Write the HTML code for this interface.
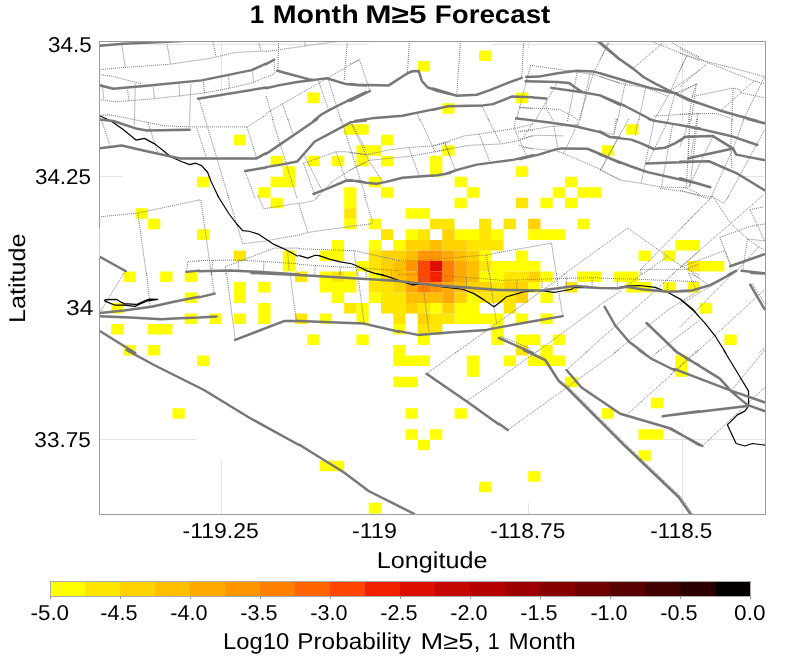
<!DOCTYPE html><html><head><meta charset="utf-8"><style>html,body{margin:0;padding:0;background:#fff;}svg{display:block;}text{font-family:"Liberation Sans",sans-serif;text-rendering:geometricPrecision;}</style></head><body>
<svg width="800" height="662" viewBox="0 0 800 662">
<rect width="800" height="662" fill="#fff"/>
<defs><clipPath id="pc"><rect x="100" y="42" width="665" height="472"/></clipPath></defs>
<path d="M99 44.5L369 44.5M493 44.5L765 44.5M99 176.5L123 176.5M738 176.5L765 176.5M99 439.5L197 439.5M663 439.5L765 439.5M221.5 42L221.5 101M221.5 461L221.5 514M528.5 42L528.5 48M528.5 503L528.5 514M682.5 42L682.5 122M682.5 430L682.5 514" stroke="#e4e4e4" stroke-width="1" fill="none"/>
<g clip-path="url(#pc)">
<path fill="#FFFF00" d="M479.09 50.55h12.27v10.52h-12.27zM417.76 61.07h12.27v10.52h-12.27zM307.37 92.62h12.27v10.52h-12.27zM515.89 92.62h12.27v10.52h-12.27zM442.29 103.14h12.27v10.52h-12.27zM344.17 124.18h12.27v10.52h-12.27zM356.44 124.18h12.27v10.52h-12.27zM626.28 124.18h12.27v10.52h-12.27zM233.78 134.7h12.27v10.52h-12.27zM380.97 134.7h12.27v10.52h-12.27zM356.44 145.22h12.27v10.52h-12.27zM368.7 145.22h12.27v10.52h-12.27zM442.29 145.22h12.27v10.52h-12.27zM601.75 145.22h12.27v10.52h-12.27zM270.58 155.74h12.27v10.52h-12.27zM307.37 155.74h12.27v10.52h-12.27zM331.9 155.74h12.27v10.52h-12.27zM356.44 155.74h12.27v10.52h-12.27zM380.97 155.74h12.27v10.52h-12.27zM430.03 155.74h12.27v10.52h-12.27zM282.84 166.26h12.27v10.52h-12.27zM430.03 166.26h12.27v10.52h-12.27zM515.89 166.26h12.27v10.52h-12.27zM196.98 176.78h12.27v10.52h-12.27zM270.58 176.78h12.27v10.52h-12.27zM282.84 176.78h12.27v10.52h-12.27zM368.7 176.78h12.27v10.52h-12.27zM454.56 176.78h12.27v10.52h-12.27zM564.95 176.78h12.27v10.52h-12.27zM258.31 187.3h12.27v10.52h-12.27zM344.17 187.3h12.27v10.52h-12.27zM380.97 187.3h12.27v10.52h-12.27zM466.82 187.3h12.27v10.52h-12.27zM552.68 187.3h12.27v10.52h-12.27zM577.21 187.3h12.27v10.52h-12.27zM589.48 187.3h12.27v10.52h-12.27zM270.58 197.81h12.27v10.52h-12.27zM344.17 197.81h12.27v10.52h-12.27zM454.56 197.81h12.27v10.52h-12.27zM540.42 197.81h12.27v10.52h-12.27zM564.95 197.81h12.27v10.52h-12.27zM135.66 208.33h12.27v10.52h-12.27zM405.5 208.33h12.27v10.52h-12.27zM417.76 208.33h12.27v10.52h-12.27zM147.92 218.85h12.27v10.52h-12.27zM344.17 218.85h12.27v10.52h-12.27zM368.7 218.85h12.27v10.52h-12.27zM577.21 218.85h12.27v10.52h-12.27zM196.98 229.37h12.27v10.52h-12.27zM405.5 229.37h12.27v10.52h-12.27zM454.56 229.37h12.27v10.52h-12.27zM466.82 229.37h12.27v10.52h-12.27zM491.36 229.37h12.27v10.52h-12.27zM528.15 229.37h12.27v10.52h-12.27zM540.42 229.37h12.27v10.52h-12.27zM552.68 229.37h12.27v10.52h-12.27zM331.9 239.89h12.27v10.52h-12.27zM368.7 239.89h12.27v10.52h-12.27zM393.23 239.89h12.27v10.52h-12.27zM675.34 239.89h12.27v10.52h-12.27zM687.6 239.89h12.27v10.52h-12.27zM282.84 250.41h12.27v10.52h-12.27zM319.64 250.41h12.27v10.52h-12.27zM331.9 250.41h12.27v10.52h-12.27zM479.09 250.41h12.27v10.52h-12.27zM515.89 250.41h12.27v10.52h-12.27zM638.54 250.41h12.27v10.52h-12.27zM663.07 250.41h12.27v10.52h-12.27zM282.84 260.93h12.27v10.52h-12.27zM356.44 260.93h12.27v10.52h-12.27zM491.36 260.93h12.27v10.52h-12.27zM503.62 260.93h12.27v10.52h-12.27zM515.89 260.93h12.27v10.52h-12.27zM528.15 260.93h12.27v10.52h-12.27zM699.87 260.93h12.27v10.52h-12.27zM712.13 260.93h12.27v10.52h-12.27zM123.39 271.45h12.27v10.52h-12.27zM160.19 271.45h12.27v10.52h-12.27zM184.72 271.45h12.27v10.52h-12.27zM319.64 271.45h12.27v10.52h-12.27zM344.17 271.45h12.27v10.52h-12.27zM368.7 271.45h12.27v10.52h-12.27zM479.09 271.45h12.27v10.52h-12.27zM491.36 271.45h12.27v10.52h-12.27zM540.42 271.45h12.27v10.52h-12.27zM577.21 271.45h12.27v10.52h-12.27zM589.48 271.45h12.27v10.52h-12.27zM614.01 271.45h12.27v10.52h-12.27zM626.28 271.45h12.27v10.52h-12.27zM233.78 281.97h12.27v10.52h-12.27zM258.31 281.97h12.27v10.52h-12.27zM319.64 281.97h12.27v10.52h-12.27zM331.9 281.97h12.27v10.52h-12.27zM344.17 281.97h12.27v10.52h-12.27zM528.15 281.97h12.27v10.52h-12.27zM626.28 281.97h12.27v10.52h-12.27zM638.54 281.97h12.27v10.52h-12.27zM663.07 281.97h12.27v10.52h-12.27zM687.6 281.97h12.27v10.52h-12.27zM184.72 292.49h12.27v10.52h-12.27zM233.78 292.49h12.27v10.52h-12.27zM331.9 292.49h12.27v10.52h-12.27zM368.7 292.49h12.27v10.52h-12.27zM466.82 292.49h12.27v10.52h-12.27zM540.42 292.49h12.27v10.52h-12.27zM111.13 303h12.27v10.52h-12.27zM258.31 303h12.27v10.52h-12.27zM356.44 303h12.27v10.52h-12.27zM430.03 303h12.27v10.52h-12.27zM454.56 303h12.27v10.52h-12.27zM466.82 303h12.27v10.52h-12.27zM699.87 303h12.27v10.52h-12.27zM184.72 313.52h12.27v10.52h-12.27zM209.25 313.52h12.27v10.52h-12.27zM233.78 313.52h12.27v10.52h-12.27zM258.31 313.52h12.27v10.52h-12.27zM319.64 313.52h12.27v10.52h-12.27zM356.44 313.52h12.27v10.52h-12.27zM454.56 313.52h12.27v10.52h-12.27zM466.82 313.52h12.27v10.52h-12.27zM479.09 313.52h12.27v10.52h-12.27zM491.36 313.52h12.27v10.52h-12.27zM515.89 313.52h12.27v10.52h-12.27zM540.42 313.52h12.27v10.52h-12.27zM111.13 324.04h12.27v10.52h-12.27zM147.92 324.04h12.27v10.52h-12.27zM160.19 324.04h12.27v10.52h-12.27zM393.23 324.04h12.27v10.52h-12.27zM491.36 324.04h12.27v10.52h-12.27zM307.37 334.56h12.27v10.52h-12.27zM356.44 334.56h12.27v10.52h-12.27zM417.76 334.56h12.27v10.52h-12.27zM491.36 334.56h12.27v10.52h-12.27zM515.89 334.56h12.27v10.52h-12.27zM528.15 334.56h12.27v10.52h-12.27zM552.68 334.56h12.27v10.52h-12.27zM724.4 334.56h12.27v10.52h-12.27zM123.39 345.08h12.27v10.52h-12.27zM147.92 345.08h12.27v10.52h-12.27zM393.23 345.08h12.27v10.52h-12.27zM540.42 345.08h12.27v10.52h-12.27zM196.98 355.6h12.27v10.52h-12.27zM393.23 355.6h12.27v10.52h-12.27zM405.5 355.6h12.27v10.52h-12.27zM417.76 355.6h12.27v10.52h-12.27zM466.82 355.6h12.27v10.52h-12.27zM503.62 355.6h12.27v10.52h-12.27zM528.15 355.6h12.27v10.52h-12.27zM540.42 355.6h12.27v10.52h-12.27zM552.68 355.6h12.27v10.52h-12.27zM675.34 355.6h12.27v10.52h-12.27zM466.82 366.12h12.27v10.52h-12.27zM675.34 366.12h12.27v10.52h-12.27zM393.23 376.64h12.27v10.52h-12.27zM405.5 376.64h12.27v10.52h-12.27zM564.95 376.64h12.27v10.52h-12.27zM650.81 397.68h12.27v10.52h-12.27zM172.45 408.2h12.27v10.52h-12.27zM405.5 408.2h12.27v10.52h-12.27zM454.56 408.2h12.27v10.52h-12.27zM601.75 408.2h12.27v10.52h-12.27zM405.5 429.23h12.27v10.52h-12.27zM430.03 429.23h12.27v10.52h-12.27zM638.54 429.23h12.27v10.52h-12.27zM650.81 429.23h12.27v10.52h-12.27zM417.76 439.75h12.27v10.52h-12.27zM638.54 450.27h12.27v10.52h-12.27zM319.64 460.79h12.27v10.52h-12.27zM331.9 460.79h12.27v10.52h-12.27zM528.15 471.31h12.27v10.52h-12.27zM479.09 481.83h12.27v10.52h-12.27zM368.7 502.87h12.27v10.52h-12.27z"/>
<path fill="#FFE600" d="M515.89 197.81h12.27v10.52h-12.27zM344.17 208.33h12.27v10.52h-12.27zM430.03 218.85h12.27v10.52h-12.27zM442.29 218.85h12.27v10.52h-12.27zM479.09 218.85h12.27v10.52h-12.27zM503.62 218.85h12.27v10.52h-12.27zM380.97 229.37h12.27v10.52h-12.27zM417.76 229.37h12.27v10.52h-12.27zM479.09 229.37h12.27v10.52h-12.27zM466.82 239.89h12.27v10.52h-12.27zM479.09 239.89h12.27v10.52h-12.27zM491.36 239.89h12.27v10.52h-12.27zM233.78 250.41h12.27v10.52h-12.27zM368.7 250.41h12.27v10.52h-12.27zM368.7 260.93h12.27v10.52h-12.27zM479.09 260.93h12.27v10.52h-12.27zM687.6 260.93h12.27v10.52h-12.27zM295.11 271.45h12.27v10.52h-12.27zM331.9 271.45h12.27v10.52h-12.27zM503.62 271.45h12.27v10.52h-12.27zM515.89 271.45h12.27v10.52h-12.27zM368.7 281.97h12.27v10.52h-12.27zM380.97 281.97h12.27v10.52h-12.27zM491.36 281.97h12.27v10.52h-12.27zM564.95 281.97h12.27v10.52h-12.27zM380.97 292.49h12.27v10.52h-12.27zM393.23 292.49h12.27v10.52h-12.27zM479.09 292.49h12.27v10.52h-12.27zM491.36 292.49h12.27v10.52h-12.27zM503.62 292.49h12.27v10.52h-12.27zM344.17 303h12.27v10.52h-12.27zM380.97 303h12.27v10.52h-12.27zM393.23 303h12.27v10.52h-12.27zM417.76 303h12.27v10.52h-12.27zM503.62 303h12.27v10.52h-12.27zM295.11 313.52h12.27v10.52h-12.27zM393.23 313.52h12.27v10.52h-12.27zM430.03 313.52h12.27v10.52h-12.27zM442.29 313.52h12.27v10.52h-12.27zM417.76 324.04h12.27v10.52h-12.27zM430.03 324.04h12.27v10.52h-12.27zM515.89 345.08h12.27v10.52h-12.27z"/>
<path fill="#FFD200" d="M528.15 218.85h12.27v10.52h-12.27zM442.29 229.37h12.27v10.52h-12.27zM405.5 239.89h12.27v10.52h-12.27zM417.76 239.89h12.27v10.52h-12.27zM442.29 239.89h12.27v10.52h-12.27zM454.56 239.89h12.27v10.52h-12.27zM380.97 250.41h12.27v10.52h-12.27zM393.23 250.41h12.27v10.52h-12.27zM466.82 250.41h12.27v10.52h-12.27zM380.97 260.93h12.27v10.52h-12.27zM380.97 271.45h12.27v10.52h-12.27zM528.15 271.45h12.27v10.52h-12.27zM393.23 281.97h12.27v10.52h-12.27zM466.82 281.97h12.27v10.52h-12.27zM479.09 281.97h12.27v10.52h-12.27zM503.62 281.97h12.27v10.52h-12.27zM515.89 281.97h12.27v10.52h-12.27zM454.56 292.49h12.27v10.52h-12.27zM515.89 292.49h12.27v10.52h-12.27zM405.5 303h12.27v10.52h-12.27zM442.29 303h12.27v10.52h-12.27zM417.76 313.52h12.27v10.52h-12.27z"/>
<path fill="#FFBE00" d="M430.03 239.89h12.27v10.52h-12.27zM405.5 250.41h12.27v10.52h-12.27zM454.56 250.41h12.27v10.52h-12.27zM393.23 260.93h12.27v10.52h-12.27zM466.82 260.93h12.27v10.52h-12.27zM393.23 271.45h12.27v10.52h-12.27zM466.82 271.45h12.27v10.52h-12.27zM454.56 281.97h12.27v10.52h-12.27zM405.5 292.49h12.27v10.52h-12.27zM417.76 292.49h12.27v10.52h-12.27zM430.03 292.49h12.27v10.52h-12.27z"/>
<path fill="#FFAA00" d="M442.29 250.41h12.27v10.52h-12.27zM454.56 260.93h12.27v10.52h-12.27zM405.5 271.45h12.27v10.52h-12.27zM454.56 271.45h12.27v10.52h-12.27zM405.5 281.97h12.27v10.52h-12.27zM442.29 281.97h12.27v10.52h-12.27zM442.29 292.49h12.27v10.52h-12.27z"/>
<path fill="#FF9600" d="M417.76 250.41h12.27v10.52h-12.27zM430.03 250.41h12.27v10.52h-12.27zM405.5 260.93h12.27v10.52h-12.27zM430.03 281.97h12.27v10.52h-12.27z"/>
<path fill="#FF8000" d="M442.29 260.93h12.27v10.52h-12.27zM442.29 271.45h12.27v10.52h-12.27zM417.76 281.97h12.27v10.52h-12.27z"/>
<path fill="#FF4600" d="M417.76 260.93h12.27v10.52h-12.27zM417.76 271.45h12.27v10.52h-12.27z"/>
<path fill="#F02000" d="M430.03 271.45h12.27v10.52h-12.27z"/>
<path fill="#DC0E00" d="M430.03 260.93h12.27v10.52h-12.27z"/>
<path d="M99 69.64L127.64 67.25L170.6 64.15L211.17 58.18L235.04 52.46L266.06 51.02M121.67 44.58L125.25 66.78M167.02 43.86L170.6 64.15M213.08 42.19L215.95 56.51M258.43 41L260.81 51.02M99 74.41L113.32 76.32L127.64 80.38L141.96 83.96M99 99.47L115.71 101.86L153.89 98.76L204.01 93.03L229.07 88.26L252.94 82.77L266.06 76.8M102.58 87.54L103.77 99.47M127.64 89.93L128.83 100.67M153.42 87.54L154.37 98.28M178.95 83.48L179.67 96.37M203.53 82.05L204.49 93.03M228.59 76.8L229.55 88.26M252.46 71.55L253.65 82.77M99 114.99L110.93 114.99L134.8 119.76L163.44 125.73L189.69 126.92L246.97 126.92L266.06 114.99M101.39 119.76L109.74 144.82M147.93 122.15L157.47 151.98M196.85 128.11L206.4 157.95M246.97 126.92L256.52 157.95M245.06 171.07L255.32 199M278.5 41L278.5 49.75L277.88 70.38M266 51.62L278.5 49.75L304.75 46L331 42.25L347.25 41M304.12 41L305.38 46M347.25 41L344.12 81M274.12 59.75L274.75 73.5L266 77.88M266 113.5L359.12 59.75M266 96L273.5 121M282.25 103.5L288.5 121M318.5 81L328.5 109.75M328.5 79.75L341 121M350 64.12L359.38 59.75L370 91M409.38 41L407.5 72.25M417.5 114.12L420 121M272.25 119L297.25 199M287.88 119L292.88 134M341 119L366 197.75M303.5 163.38L314.12 192.75M303.5 163.38L336 151.75L346 151.75L366 154.62M336 151.75L346 180.25M316 199L332.25 181.5L356 166.5L366 162.12M304.12 155.25L321.62 189.62M352.25 124L366 150.25M351.25 124L368.75 160.25L382.5 181.5M350 152.75L367.5 154.62L387.5 150.25L408.75 147.5L432.5 145.88L450 142.12M350 170.25L356.25 167.12L369.38 160.25L408.75 156.5L435 151.75L450 149M408.75 147.5L418.75 174.62M420 119L435 151.75M445 142.75L450 156.5M460.5 41L456.75 94.75M523.62 41L521.75 77.88M530.5 65.38L516.75 118.5M481.75 105.38L489.25 121M519.25 107.25L533 108.5M433 145.88L445.5 142.12L464.25 135.88L479.88 134L495.5 131.5L515.5 128.38L533 124M433 152.12L448 149L470.5 145.25L500.5 144L520.5 140.25L533 135.25M444.25 142.12L455.5 170.25M479.25 134L489.88 162.12M488 119L500.5 143.38M515.5 119L514.25 128.38L526.75 156.5M519.25 145.25L533 149M518 131.5L533 130.25M533 122.75L523 137.75M530 65.38L557.5 69.12L595 74.75L620 83.5M610 41L593.75 72.25L578.75 121M577.5 71L567.5 121M590 73.5L580 121M557.5 82.25L535 121M520 107.88L546.25 108.5L560 109.75L572.5 116L578.75 121M546.25 98.5L546.25 108.5L553.75 121M608.75 41L600 59.75M650 41L666.25 47.25L700 61M670 41L677.5 46L700 57.25M665 41L633.75 67.88M600 76.62L623.75 84.12L646.25 87.88L667.5 96M686.25 56.62L668.75 94.75L653.75 121M700 69.75L670 91M696.25 84.12L675 93.5M696.25 84.12L691.25 121M625.62 81L617.5 121M645.62 87.88L638.75 121M675 93.5L667.5 121M653.75 116L700 113.5M680 48.85L707.78 62.74L753.67 80.86L764.54 83.87M680 53.08L701.74 60.32L730.72 67.57L764.54 76.63M686.64 56.1L680 69.99M707.78 62.74L680 86.89M696.3 83.87L680 92.93M696.3 83.87L692.08 96.56L688.45 120.95M692.08 96.56L733.14 88.1L739.18 89.31L741.59 92.93L764.54 97.76M754.28 80.86L721.06 110.44M733.14 88.1L731.93 120.95M764.54 76.63L742.8 120.95M680 114.07L716.23 113.46L730.72 118.29M698.12 113.46L696.91 120.95M520 131.5L551.25 126.5L580 124.62M520 139L536.25 135.25L563.75 135.88M523.75 147.75L556.25 150.88L563.75 153.38L601.25 169.62L620 180.25M563.75 153.38L578.75 121.5M557.5 146.5L553.75 125.25M617.5 139L601.25 169.62M617.5 119L613.75 135.25M600 130.88L612.5 134.62M616.25 119L613.75 134.62M628.75 119L600 170.25M638.75 119L635 135.25M653.75 122.75L641.25 182.75M668.75 119L647.5 163.38M672.5 125.25L661.25 187.12M690 119L686.25 189M697.5 119L690 187.12M600 170.25L621.25 180.25L641.25 183.38L661.25 187.12L685 187.5L700 194M660 188.38L683.75 191.5L700 195.25M689.66 119L688.45 157.65M696.91 119L690.87 156.44M731.93 119L730.72 147.99L731.93 168.52M744.01 119L733.14 148.59M764.54 129.87L727.1 198.95M712.61 137.12L688.45 187.84M733.14 148.59L710.19 198.95M680 190.26L710.19 198.95M689.66 119L680 146.78M99 216.88L137.75 213.12L199 200M137.75 213.12L146.5 275M199 261.25L187.75 261.25L186.5 271.88M199 200L200.88 200L211.5 275M227.75 195L242.75 243.75L264 241.25L299 235M257.75 195L264 208.75L299 203.12M199 260.62L240.25 260L299 263.75M225.25 266.88L246.5 258.75L274 248.12L299 248.12M212.75 260L211.5 275M225.25 266.88L225.88 275M238.38 260.62L238.38 271.25M264 262.5L263.38 271.25M287.75 251.25L289 271.25M319 195L314 200.62L299 203.75M299 204.38L307.75 232.5M299 235L307.75 232.5L342.75 227.5L371.5 223.75L372.75 221.88M364 195L372.75 221.88M299 248.75L354 250.62L399 260.62M354 250.62L357.12 275M299 264.38L336.5 266.88L355.25 267.5L399 270.62M315.25 265.62L314.62 275M340.25 266.88L340.25 275M399 260L419 260.62L455.25 257.5L486.5 255L499 252.5M419 260.62L417.75 275M486.5 255L489 275M499 252.5L551.5 243.12L556.5 275M599 248.75L562.75 275M599 248.75L627.75 228.12L681.5 266.25L699 275M699 210L640.25 270L641.5 275M640.25 269.38L686.5 269.38L699 263.75M667.75 256.25L641.5 275M699 251.25L671.5 275M680 229.42L712.61 196.21M698.12 195L712.61 196.81L723.48 203.45L729.52 195M712.61 196.21L730.72 223.38L747.63 239.08L764.54 250.56M763.33 195L730.72 223.38L680 267.46M719.86 237.27L750.05 226.4L764.54 223.99M719.86 237.27L730.72 266.26M747.63 239.08L764.54 240.89M750.05 209.49L763.33 207.08M750.05 209.49L764.54 240.89M680 267.46L724.69 250.56L731.93 267.46M747.63 239.08L742.8 269.88M758.5 246.93L736.76 271.09M124 273L100.25 311.75M146.5 273L150.25 306.75M211.5 273L214 293.62M226.5 273L235.25 339.88M290.25 275.5L296.5 321.12M357.75 273L364 323M365.88 271.75L366.5 279.25M340.25 271.75L339.62 278M391.5 271.75L392.12 279.25M399 274.25L441.5 275.5L466.5 277.38L499 279.88M421.5 273L429 331.75M441.5 275.5L441.5 284.88M466.5 277.38L466.5 286.75M489.62 273L491.5 289.25L494 306.75L496.5 323M455.25 353L499 321.75M499 280.5L599 277.38M517.12 280.5L516.5 290.5M542.12 281.12L542.12 289.88M566.5 277.38L566.5 286.75M592.12 278L592.12 286.75M556.5 273L558.38 290.5L562.75 316.12M566.5 273L499 321.75M599 306.12L535.25 353M599 340.5L585.25 353M501.5 336.5L530.25 348.5M599 278L636.5 279.25L699 281.75M617.75 279.25L617.12 288M642.75 273L626.5 286.75M599 305.5L621.5 290.5M599 340.5L652.75 293L674 273M614 353L669 309.25L699 290.5M656.5 353L699 320.5M689 273L699 278M667.75 283L667.12 291.75M688.45 273L695.7 288.7M692.08 273L707.78 284.47M680 304.4L733.14 273M680 327.35L731.93 274.21M695.7 352.95L764.54 289.91M752.46 283.87L764.54 303.19M758.5 352.95L764.54 347.88M426.5 373.75L459 350M466.5 401.25L499 378.75M499 378.75L539 350M507.75 430L619 350M566.5 370L589 350M627.75 413.75L699 350M651.5 358.75L659 350M561 381.25L568.5 387L626 444.5L681 497L693.5 515.5M670 374.94L697.43 350M702.42 446.01L764.76 387.41M729.85 392.39L764.76 350M135.28 83.48L134.32 125.73M190.89 84.44L189.21 126.92M199.24 99.47L229.07 199" stroke="#7a7a7a" stroke-width="1" stroke-dasharray="1 1" fill="none"/>
<path d="M99 115.46L110.93 120.95L122.87 129.31L135.99 140.05L144.35 138.37L155.09 144.1L163.44 150.79L170.6 156.75L181.34 161.53L189.69 164.63L195.66 163.2L201.63 165.58L207.59 172.26L211.17 181.81L219.53 199M217.12 195L229 213.75L236.5 223.75L242.75 230.62L249 231.25L259 234.38L274 244.38L286.5 250L297.75 256.25M298.38 255.38L307.75 258.12L315.25 255.25L319 255.62L330.25 259.38L340.25 261.88L351.5 263.75L357.75 266.25L366.5 270.62L374 273.12L384 275M104 300.4L106.4 299.6L116.8 299.4L121.6 302.4L124 303.6L135.2 304.4L137.6 304L146.4 300L149.6 299.2L157.6 299.4L148 300.8L138.4 304.8L135.2 306.4L124 305.2L115.2 305.2L108 302.4L104 300.4M372.75 273L386.5 276.12L399 280.5M399 280.75L412.75 284.88L422.75 283.62L442.75 287L462.75 289.25L474 293.62L484 299.88L494 306.75L499 303M499 303L506.5 296.75L524 291.75L539 290.5L554 292.38L557.75 291.75L571.5 289.25L574 287.38L579 286.5M574 287.38L599 288L617.75 287.75L626.5 286.12L639 285.5L655.25 287.38L669 293L681.5 299.88L692.75 309.25L699 316.75M680 298.97L694.49 311.65L705.36 323.72L715.02 335.8L725.89 352.95M723.62 350L737.33 372.44L748.55 391.15L748.55 406.11L744.81 411.1L737.33 414.84L727.36 424.81L736.08 443.52L744.81 446.01L752.29 443.52L766.01 445.26" stroke="#000" stroke-width="1.2" fill="none" stroke-linejoin="round"/>
<path d="M99 45.77L122.87 43.86L182.53 41M99 85.15L113.32 88.73L146.73 85.87L201.63 80.38L251.74 70.12L266.06 63.67M198.05 98.76L266.06 87.54M99 119.28L113.32 120.95L137.19 128.83L146.73 130.5L189.69 129.78M99 148.4L121.67 145.53L146.73 151.26L180.15 158.42L256.52 158.42L266.06 153.17M245.06 171.07L266.06 167.49M266 64.12L274.12 59.75M277.25 70.75L291 74.5L308.5 79.12L313.5 80L319.75 79.12L327.25 78.25L331 79.5L346 84.12L356 85L366 85.38M266 88.25L278.5 85.38L297.25 82L313.5 80M313.5 121L321 114.75L331 109.12L347.25 101L366 92.25M350 84.12L357.5 84.75L388.75 85.38L407.5 73.25L412.5 71.25L418.75 71L421.88 81L427.5 87.25L437.5 91L450 94.12M350 101L370 91M355 121L375 117.88L402.5 115.75L416.25 112.88L450 106M266 154L279.75 144.62L297.25 132.75L317.25 119M266 167.12L281 164.62L297.25 161.5L314.75 141.5L334.75 130.88L351 122.12L366 120.5M313.5 194L331 187.12L346.62 180.5L358.5 180.88L366 182.75M350 180.25L366.25 182.75L376.25 183.75L385 182.12L402.5 177.75L418.75 176.5L437.5 175.25L450 173M433 88.5L456.75 95.75L476.75 94.75L489.25 90.38L508 82.88L521.75 77.88M433 109.75L448 106.25L483 105.38L493 104.12L511.75 96.62L533 97.25M516.75 118.5L533 120.38M433 175.88L445.5 174L458 169.62L476.75 164.62L495.5 162.12L514.25 159.62L533 155.25M526.25 77L538.75 76.62L557.5 73.25L576.25 70.75L593.75 71.62L607.5 75.38L620 79.12M525.62 81.25L557.5 82L568.75 82.88L575 87.25L582.5 92.25M551.25 87.88L582.5 92.25L600 95.38L620 104.75M533 97.38L546.25 98.5M597.5 41L620 59.75M600 42.25L618.75 58.5L633.75 69.12L643.75 77.25L656.25 84.12L670 91L687.5 99.75L700 103.5M600 73.25L625 80.75L650 87.88L670 92.25L677.5 93.5M600 95.38L625 106L653.75 121M680 95.35L692.08 100.78L719.86 110.44L731.93 114.07L757.29 120.95M516.25 118.38L551.25 122.75L576.25 126.5L600 132.12L610 137.12L620 137.75M520 159L538.75 154.62L555 149.62L561.25 148.38L587.5 148.75L600 154L620 162.75M648.75 119L655 120.88L700 128.38M600 131.5L610 137.12L631.25 139.62L641.25 143.38L653.75 149L665 147.75L675 143.38L685 137.12L700 136.5M600 154.62L631.25 166.5L647.5 172.12L700 184M646.25 163.38L700 161.5M688.75 158.38L700 155.88M747.63 119L764.54 123.23M680 125.04L704.15 129.87L730.72 135.91L757.29 144.97M680 140.74L684.83 136.87L712.61 135.91L733.14 148.59L736.16 154.63L764.54 160.06M688.45 158.25L733.14 148.59M680 161.87L708.99 161.27L737.97 173.95L764.54 190.26M680 178.18L710.19 187.24M99 256.25L125.88 271.25M186.5 271.88L199 270.62M199 271.25L230.25 270.62L261.5 271.88L299 274.38M730.12 266.26L764.54 254.18M741.59 270.85L764.54 273.26M728.31 274.95L736.16 270.85M99 313L124 310.5L151.5 306.75L174 301.75L199 296.75M99 316.12L130.25 317.38L161.5 319.25L174 318.62L199 317.38M99 330.5L135.25 353M199 297.38L214.62 293.62M199 317.38L216.5 316.5M235.25 339.88L284 321.12L299 321.12M251.5 273L299 274.88M299 274.88L349 278L399 281.12M299 321.12L336.5 322.38L364 323.62L399 331.75M399 281.12L436.5 285.5L466.5 287.38L499 289.88M399 331.12L417.75 334.88L449 332.38L486.5 329.88L499 327.38M499 289.88L541.5 290.5L569 286.75L576.5 286.12L599 288M499 327.38L530.25 321.75L562.75 316.12M499 338L532.75 353M599 288L617.75 288.25L626.5 286.75L641.5 289.25L667.75 291.75L689 291.12L699 288.62M604.62 306.75L615.25 325.5L629 341.75L644 353M646.5 323L677.75 353M680 291.12L692.08 290.51L710.19 285.08L733.14 273M750.05 284.47L764.54 309.23M751.26 273L764.54 273.6M126.5 350L154 365L204 390L249 417.5L299 445M299 444.5L344 472.5L369 491.25L414 513.75M426.5 373.75L466.5 401.25L499 424.5M499 423.75L507.75 430M524 350L545.25 360L559 381.25L566.5 387.5L624 445L679 497.5L691.5 515.5M566.5 370L581.5 387.5L620.25 413.75L671.5 428.75L699 445M662.75 416.25L699 411.25M639 350L651.5 358.75L674 370M674 350L689 360L699 365M673.74 350L719.88 378.68L732.34 392.39L747.31 404.86L764.76 411.1M673.99 368.95L732.34 391.15L764.76 402.37M670 415.34L747.31 406.11M670 428.55L702.42 446.01" stroke="#777" stroke-width="2.5" fill="none" stroke-linejoin="round" stroke-linecap="round"/>
</g>
<rect x="99.5" y="41.5" width="666" height="473" fill="none" stroke="#9b9b9b" stroke-width="1"/>
<rect x="99" y="228" width="1" height="30" fill="#fff" opacity="0.5"/>
<g style="will-change:transform">
<text x="249.7" y="22.94" font-size="25.5" textLength="14.44" lengthAdjust="spacingAndGlyphs" font-weight="bold">1</text>
<text x="272.75" y="22.94" font-size="25.5" textLength="85.9" lengthAdjust="spacingAndGlyphs" font-weight="bold">Month</text>
<text x="365.31" y="22.94" font-size="25.5" textLength="61.2" lengthAdjust="spacingAndGlyphs" font-weight="bold">M&#8805;5</text>
<text x="434.83" y="22.94" font-size="25.5" textLength="115.5" lengthAdjust="spacingAndGlyphs" font-weight="bold">Forecast</text>
<text x="47.95" y="51.7" font-size="21.5" textLength="43.75" lengthAdjust="spacingAndGlyphs">34.5</text>
<text x="34.94" y="183.9" font-size="21.5" textLength="56.1" lengthAdjust="spacingAndGlyphs">34.25</text>
<text x="66.08" y="314.9" font-size="21.5" textLength="27.42" lengthAdjust="spacingAndGlyphs">34</text>
<text x="34.35" y="446.9" font-size="21.5" textLength="56.5" lengthAdjust="spacingAndGlyphs">33.75</text>
<text x="182.52" y="538" font-size="21.5" textLength="76.29" lengthAdjust="spacingAndGlyphs">-119.25</text>
<text x="352.11" y="538" font-size="21.5" textLength="44.76" lengthAdjust="spacingAndGlyphs">-119</text>
<text x="490.32" y="538" font-size="21.5" textLength="74.88" lengthAdjust="spacingAndGlyphs">-118.75</text>
<text x="650.34" y="538" font-size="21.5" textLength="62.04" lengthAdjust="spacingAndGlyphs">-118.5</text>
<text x="376.81" y="568" font-size="23" textLength="110.74" lengthAdjust="spacingAndGlyphs">Longitude</text>
<text x="222.91" y="648.9" font-size="23" textLength="66.28" lengthAdjust="spacingAndGlyphs">Log10</text>
<text x="297.27" y="648.9" font-size="23" textLength="113.73" lengthAdjust="spacingAndGlyphs">Probability</text>
<text x="420.6" y="648.9" font-size="23" textLength="60.3" lengthAdjust="spacingAndGlyphs">M&#8805;5,</text>
<text x="487.78" y="648.9" font-size="23" textLength="11.86" lengthAdjust="spacingAndGlyphs">1</text>
<text x="508.5" y="648.9" font-size="23" textLength="67.29" lengthAdjust="spacingAndGlyphs">Month</text>
<text x="25" y="322.95" font-size="23" textLength="89.63" lengthAdjust="spacingAndGlyphs" transform="rotate(-90 25 322.95)">Latitude</text>
<text x="30.45" y="620" font-size="21.5" textLength="38.66" lengthAdjust="spacingAndGlyphs">-5.0</text>
<text x="100.38" y="620" font-size="21.5" textLength="37.28" lengthAdjust="spacingAndGlyphs">-4.5</text>
<text x="170.38" y="620" font-size="21.5" textLength="37.28" lengthAdjust="spacingAndGlyphs">-4.0</text>
<text x="240.38" y="620" font-size="21.5" textLength="37.28" lengthAdjust="spacingAndGlyphs">-3.5</text>
<text x="310.38" y="620" font-size="21.5" textLength="37.28" lengthAdjust="spacingAndGlyphs">-3.0</text>
<text x="380.38" y="620" font-size="21.5" textLength="37.28" lengthAdjust="spacingAndGlyphs">-2.5</text>
<text x="450.38" y="620" font-size="21.5" textLength="37.28" lengthAdjust="spacingAndGlyphs">-2.0</text>
<text x="520.38" y="620" font-size="21.5" textLength="37.28" lengthAdjust="spacingAndGlyphs">-1.5</text>
<text x="590.38" y="620" font-size="21.5" textLength="37.28" lengthAdjust="spacingAndGlyphs">-1.0</text>
<text x="660.38" y="620" font-size="21.5" textLength="37.28" lengthAdjust="spacingAndGlyphs">-0.5</text>
<text x="734.14" y="620" font-size="21.5" textLength="31.39" lengthAdjust="spacingAndGlyphs">0.0</text>
</g>
<rect x="50" y="581" width="35.3" height="15" fill="#FFFF00"/>
<rect x="85" y="581" width="35.3" height="15" fill="#FFE600"/>
<rect x="120" y="581" width="35.3" height="15" fill="#FFD200"/>
<rect x="155" y="581" width="35.3" height="15" fill="#FFBE00"/>
<rect x="190" y="581" width="35.3" height="15" fill="#FFAA00"/>
<rect x="225" y="581" width="35.3" height="15" fill="#FF9600"/>
<rect x="260" y="581" width="35.3" height="15" fill="#FF8000"/>
<rect x="295" y="581" width="35.3" height="15" fill="#FF6400"/>
<rect x="330" y="581" width="35.3" height="15" fill="#FF4600"/>
<rect x="365" y="581" width="35.3" height="15" fill="#F02000"/>
<rect x="400" y="581" width="35.3" height="15" fill="#DC0E00"/>
<rect x="435" y="581" width="35.3" height="15" fill="#C40800"/>
<rect x="470" y="581" width="35.3" height="15" fill="#B40200"/>
<rect x="505" y="581" width="35.3" height="15" fill="#9C0000"/>
<rect x="540" y="581" width="35.3" height="15" fill="#860000"/>
<rect x="575" y="581" width="35.3" height="15" fill="#6F0000"/>
<rect x="610" y="581" width="35.3" height="15" fill="#590000"/>
<rect x="645" y="581" width="35.3" height="15" fill="#430000"/>
<rect x="680" y="581" width="35.3" height="15" fill="#2D0000"/>
<rect x="715" y="581" width="35.3" height="15" fill="#050000"/>
<rect x="50.5" y="581.5" width="700" height="15" fill="none" stroke="#aaa" stroke-width="1"/>
<path d="M50.5 596V599M120.5 596V599M190.5 596V599M260.5 596V599M330.5 596V599M400.5 596V599M470.5 596V599M540.5 596V599M610.5 596V599M680.5 596V599M750.5 596V599" stroke="#999" stroke-width="1"/>
</svg></body></html>
